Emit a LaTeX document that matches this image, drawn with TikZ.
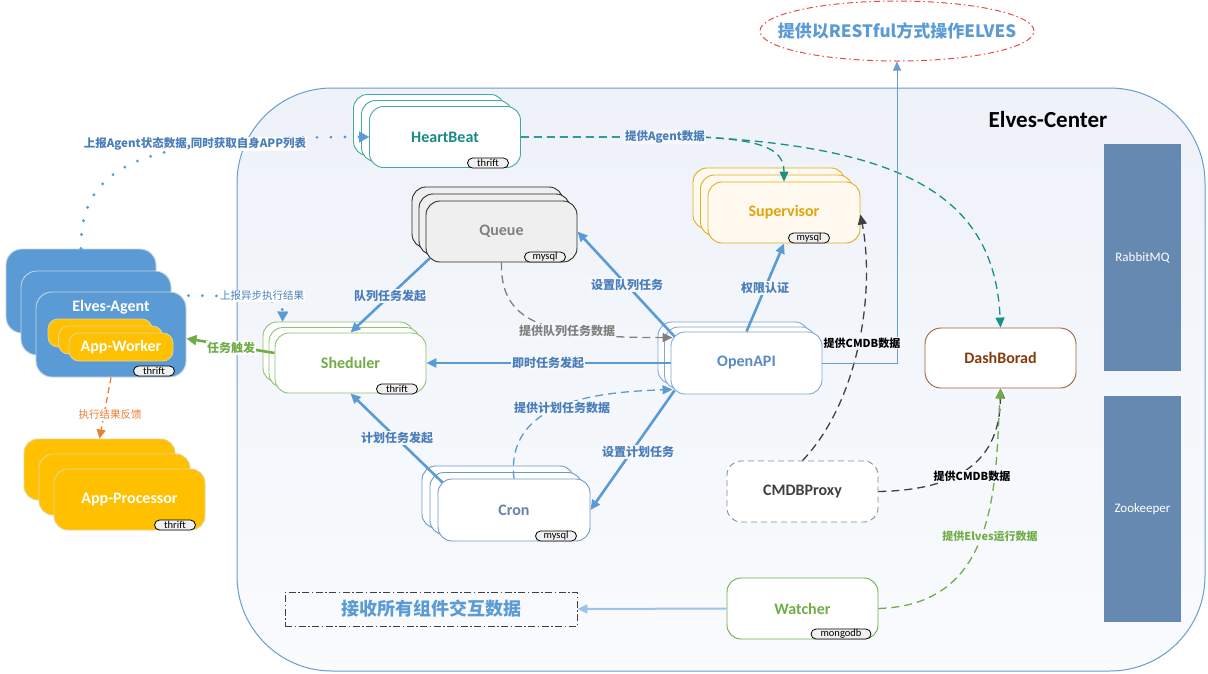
\documentclass[tikz,border=0pt]{standalone}
\usepackage{fontspec}
\setmainfont{Carlito}
\newfontfamily\cjk{Noto Sans CJK SC}
\usetikzlibrary{arrows.meta,shapes.geometric,calc}
\newcommand{\fsz}[1]{\fontsize{#1}{#1}\selectfont}
\definecolor{cblue}{HTML}{5B9BD5}
\definecolor{clabel}{HTML}{4A7EBB}
\definecolor{cframe}{HTML}{6A9BD1}
\definecolor{cbgtop}{HTML}{EEF2F9}
\definecolor{cbgbot}{HTML}{F9FBFD}
\definecolor{clbg}{HTML}{F6F8FC}
\definecolor{cred}{HTML}{E84A4A}
\definecolor{cblock}{HTML}{6689B2}
\definecolor{cteal}{HTML}{1A8F88}
\definecolor{chbB}{HTML}{45A8A1}
\definecolor{chbT}{HTML}{178A84}
\definecolor{cqB}{HTML}{2B2B2B}
\definecolor{cqF}{HTML}{EFEFEF}
\definecolor{cqT}{HTML}{808080}
\definecolor{csupB}{HTML}{E3AE1B}
\definecolor{csupF}{HTML}{FFF9EF}
\definecolor{csupT}{HTML}{E1A40A}
\definecolor{cgreenB}{HTML}{8DC26F}
\definecolor{cgreen}{HTML}{70AD47}
\definecolor{capiB}{HTML}{7FA8D8}
\definecolor{capiT}{HTML}{5A8AC6}
\definecolor{ccronB}{HTML}{6E97CB}
\definecolor{ccronT}{HTML}{6882AA}
\definecolor{cdashB}{HTML}{A3623A}
\definecolor{cdashT}{HTML}{843C0C}
\definecolor{cgrayB}{HTML}{8C8C8C}
\definecolor{cdark}{HTML}{404040}
\definecolor{cagent}{HTML}{5B9BD5}
\definecolor{cagentB}{HTML}{C5D3E2}
\definecolor{cyel}{HTML}{FFC000}
\definecolor{cyelB}{HTML}{E2D4A8}
\definecolor{corange}{HTML}{ED7D31}
\definecolor{cthin}{HTML}{9DC3E6}
\tikzset{
  card/.style={draw, rounded corners=14pt, minimum width=151pt, minimum height=61pt, inner sep=0pt, line width=0.9pt, fill=white},
  cardtext/.style={font=\bfseries\fsz{16}},
  tag/.style={draw=black, fill=black!6, rounded corners=5pt, minimum width=41pt, minimum height=10pt, inner sep=0pt, line width=0.8pt, font=\fsz{10.5}},
  block/.style={fill=cblock, minimum width=77pt, inner sep=0pt, text=white, font=\fsz{13}},
  thickarr/.style={draw=cblue, line width=2.6pt, -{Triangle[length=10pt,width=9pt]}},
  lbl/.style={font=\cjk\bfseries\fsz{12}, text=clabel, fill=clbg, inner sep=1pt},
}
\begin{document}
\begin{tikzpicture}[x=1pt,y=-1pt]
\useasboundingbox (0,0) rectangle (1208,673);
\fill[white] (0,0) rectangle (1208,673);
% container
\draw[draw=cframe, line width=1pt, rounded corners=95pt, top color=cbgtop, bottom color=cbgbot] (237,88) rectangle (1205,671);
\node[font=\bfseries\fsz{23}] (ctr) at (1048,120) {Elves-Center};
% title ellipse
\node[ellipse, draw=cred, line width=1pt, dash pattern=on 6pt off 3pt on 1.5pt off 3pt, minimum width=274pt, minimum height=60pt, inner sep=0pt] (ell) at (897,31) {};
\node[font=\cjk\bfseries\fsz{17}, text=cblue] (ellT) at (ell.center) {提供以RESTful方式操作ELVES};
% side blocks
\node[block, minimum height=227pt] (rmq) at (1142.5,257.5) {RabbitMQ};
\node[block, minimum height=226pt] (zk) at (1142.5,509) {Zookeeper};
% HeartBeat
\node[card, draw=chbB] (hbB) at (429,125) {};
\node[card, draw=chbB] (hbM) at (437,131) {};
\node[card, draw=chbB, cardtext, text=chbT] (hbF) at (445,137) {HeartBeat};
\node[tag] (hbTag) at (488,163) {thrift};
% Queue
\node[card, draw=cqB, fill=cqF] (queueB) at (487.5,217.5) {};
\node[card, draw=cqB, fill=cqF] (queueM) at (494.5,224.5) {};
\node[card, draw=cqB, fill=cqF, cardtext, text=cqT] (queueF) at (501.5,231.5) {Queue};
\node[tag] (queueTag) at (545,257) {mysql};
% Supervisor
\node[card, draw=csupB, fill=csupF, minimum width=152pt] (supB) at (769,198.5) {};
\node[card, draw=csupB, fill=csupF, minimum width=152pt] (supM) at (776.5,205.5) {};
\node[card, draw=csupB, fill=csupF, minimum width=152pt, cardtext, text=csupT] (supF) at (784,212.5) {Supervisor};
\node[tag] (supTag) at (809,238) {mysql};
% Sheduler
\node[card, draw=cgreenB, minimum height=60pt] (shedB) at (338.5,352) {};
\node[card, draw=cgreenB, minimum height=60pt] (shedM) at (344.5,357.5) {};
\node[card, draw=cgreenB, minimum height=60pt, cardtext, text=cgreen] (shedF) at (350.5,363) {Sheduler};
\node[tag] (shedTag) at (397,389) {thrift};
% OpenAPI
\node[card, draw=capiB, minimum height=62pt] (apiB) at (733.5,353) {};
\node[card, draw=capiB, minimum height=62pt] (apiM) at (740,358) {};
\node[card, draw=capiB, minimum height=62pt, cardtext, text=capiT] (apiF) at (746.5,363) {OpenAPI};
% Cron
\node[card, draw=ccronB, minimum width=152pt, minimum height=62pt] (cronB) at (498,497) {};
\node[card, draw=ccronB, minimum width=152pt, minimum height=62pt] (cronM) at (506,503.5) {};
\node[card, draw=ccronB, minimum width=152pt, minimum height=62pt, cardtext, text=ccronT] (cronF) at (514,510) {Cron};
\node[tag] (cronTag) at (556,536) {mysql};
% DashBorad
\node[card, draw=cdashB, rounded corners=16pt, minimum height=60pt, cardtext, text=cdashT] (dash) at (1000.5,358) {DashBorad};
% CMDBProxy
\node[card, draw=cgrayB, dash pattern=on 6pt off 4pt, cardtext, text=cdark] (cmdb) at (802.5,491.5) {CMDBProxy};
% Watcher
\node[card, draw=cgreen, cardtext, text=cgreen] (watcher) at (802.5,608.5) {Watcher};
\node[tag, minimum width=60pt] (watchTag) at (841,634) {mongodb};
% receive box
\node[draw=black!75, line width=0.9pt, dash pattern=on 7pt off 2.5pt on 1.5pt off 2.5pt, minimum width=292pt, minimum height=34pt, inner sep=0pt, font=\cjk\bfseries\fsz{18}, text=cblue] (recv) at (431,609) {接收所有组件交互数据};
% Elves-Agent
\node[card, draw=cagentB, fill=cagent, rounded corners=16pt, minimum width=150pt, minimum height=84pt] (agentB) at (81,291) {};
\node[card, draw=cagentB, fill=cagent, rounded corners=16pt, minimum width=150pt, minimum height=84pt] (agentM) at (96,313) {};
\node[card, draw=cagentB, fill=cagent, rounded corners=16pt, minimum width=150pt, minimum height=85pt] (agentF) at (111,334.5) {};
\node[cardtext, text=white] (agentT) at (111,307) {Elves-Agent};
\node[draw=cyelB, fill=cyel, rounded corners=10pt, minimum width=104pt, minimum height=28pt, line width=0.8pt] (awB) at (100,333) {};
\node[draw=cyelB, fill=cyel, rounded corners=10pt, minimum width=104pt, minimum height=28pt, line width=0.8pt] (awM) at (110.5,340) {};
\node[draw=cyelB, fill=cyel, rounded corners=10pt, minimum width=104pt, minimum height=28pt, line width=0.8pt, cardtext, text=white] (awF) at (121,347) {App-Worker};
\node[tag] (agentTag) at (154,371) {thrift};
% App-Processor
\node[card, draw=cyelB, fill=cyel] (apB) at (99.5,469.5) {};
\node[card, draw=cyelB, fill=cyel] (apM) at (114.5,484.5) {};
\node[card, draw=cyelB, fill=cyel, cardtext, text=white] (apF) at (129.5,499.5) {App-Processor};
\node[tag] (apTag) at (175,525) {thrift};

% ---------- connectors ----------
\draw[cblue, line width=3.2pt, line cap=round, dash pattern=on 0pt off 14pt, -{Triangle[length=10pt,width=11pt,line width=0.2pt]}]
  (agentB.north) .. controls (80,160) and (150,137) .. (hbF.west);
\draw[cblue, line width=3.2pt, line cap=round, dash pattern=on 0pt off 14pt, -{Triangle[length=10pt,width=11pt,line width=0.2pt]}]
  ([xshift=2pt,yshift=-4pt]agentF.north east) .. controls (265,296) and (283,300) .. ([xshift=20pt]shedB.north west);
\draw[cgreen, line width=2.6pt, -{Triangle[length=10pt,width=10pt]}] ([yshift=10pt]shedF.west) -- ([yshift=-4pt]agentF.east);
\draw[thickarr] ([xshift=4pt,yshift=4pt]queueF.south west) -- (shedF.north);
\draw[thickarr] ([xshift=4pt,yshift=-5pt]apiF.north west) -- (queueF.east);
\draw[thickarr] (apiF.north) -- (supF.south);
\draw[cqT, line width=1.3pt, dash pattern=on 8pt off 5pt, -{Triangle[length=10pt,width=9pt]}]
  (queueF.south) .. controls (500,320) and (540,338) .. ([xshift=2pt,yshift=-6pt]apiF.north west);
\draw[thickarr] (apiF.west) -- (shedF.east);
\draw[thickarr] ([xshift=5pt,yshift=-4pt]cronF.north west) -- (shedF.south);
\draw[thickarr] ([xshift=4pt,yshift=4pt]apiF.south west) -- (cronF.east);
\draw[cblue, line width=1.3pt, dash pattern=on 8pt off 5pt, -{Triangle[length=10pt,width=9pt]}]
  (cronF.north) .. controls (505,400) and (600,392) .. ([xshift=2pt,yshift=5pt]apiF.south west);
\draw[cteal, line width=1.3pt, dash pattern=on 8pt off 5pt, -{Triangle[length=10pt,width=9pt]}]
  (hbF.east) -- (700,137) .. controls (765,140) and (784,150) .. (supF.north);
\draw[cteal, line width=1.3pt, dash pattern=on 8pt off 5pt, -{Triangle[length=10pt,width=9pt]}]
  (hbF.east) -- (700,137) .. controls (910,148) and (995,200) .. (dash.north);
\draw[cdark, line width=1.3pt, dash pattern=on 8pt off 5pt, -{Triangle[length=10pt,width=9pt]}]
  (cmdb.north) .. controls (860,400) and (875,290) .. ([yshift=-2pt]supF.east);
\draw[cdark, line width=1.3pt, dash pattern=on 8pt off 5pt, -{Triangle[length=10pt,width=9pt]}]
  (cmdb.east) .. controls (960,490) and (1000,460) .. (dash.south);
\draw[cgreen, line width=1.3pt, dash pattern=on 8pt off 5pt, -{Triangle[length=10pt,width=9pt]}]
  (watcher.east) .. controls (1000,605) and (995,480) .. (dash.south);
\draw[cthin, line width=2pt, -{Triangle[length=10pt,width=9pt]}] (watcher.west) -- (recv.east);
\draw[cframe, line width=1pt, -{Triangle[length=9pt,width=8pt]}] (apiF.east) -- (apiF.east -| ell.south) -- (ell.south);
\draw[corange, line width=1.3pt, dash pattern=on 6pt off 4pt, -{Triangle[length=9pt,width=9pt]}] (agentF.south) -- (apB.north);

% ---------- labels ----------
\node[lbl, fill=white, font=\cjk\bfseries\fsz{11.5}] (l1) at (195,144) {上报Agent状态数据,同时获取自身APP列表};
\node[lbl, fill=white, font=\cjk\fsz{10.5}] (l2) at (262,296) {上报异步执行结果};
\node[lbl, fill=white, text=cgreen] (l3) at (231,348) {任务触发};
\node[lbl] (l4) at (390,296) {队列任务发起};
\node[lbl] (l5) at (627,285) {设置队列任务};
\node[lbl] (l6) at (765,288) {权限认证};
\node[lbl, text=cqT] (l7) at (567,331) {提供队列任务数据};
\node[lbl] (l8) at (548,363) {即时任务发起};
\node[lbl] (l9) at (397,438) {计划任务发起};
\node[lbl] (l10) at (638,452) {设置计划任务};
\node[lbl] (l11) at (562,408) {提供计划任务数据};
\node[lbl, font=\cjk\bfseries\fsz{11.5}] (l12) at (665,137) {提供Agent数据};
\node[lbl, text=black, font=\cjk\bfseries\fsz{11}] (l13) at (862,343) {提供CMDB数据};
\node[lbl, text=black, font=\cjk\bfseries\fsz{11}] (l14) at (972,476) {提供CMDB数据};
\node[lbl, text=cgreen, font=\cjk\bfseries\fsz{11}] (l15) at (990,536) {提供Elves运行数据};
\node[lbl, fill=white, text=corange, font=\cjk\fsz{10.5}] (l16) at (110,415) {执行结果反馈};
\end{tikzpicture}
\end{document}
